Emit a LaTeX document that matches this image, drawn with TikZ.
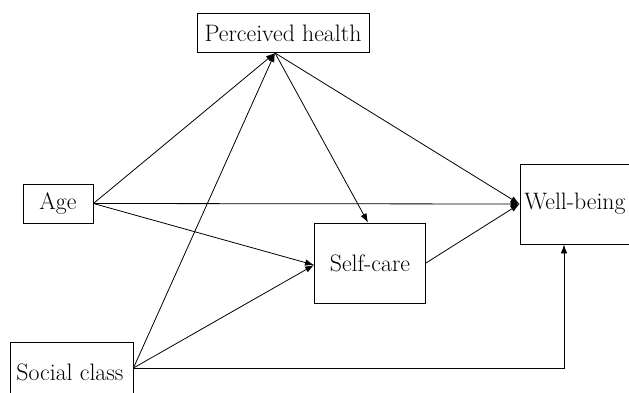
\documentclass[tikz,border=0pt]{standalone}
\usetikzlibrary{arrows.meta,calc}
\begin{document}
\begin{tikzpicture}[x=1pt,y=1pt,
  box/.style={draw=black,line width=0.9pt,fill=white,inner sep=0pt,font=\fontsize{23.8}{27}\selectfont},
  link/.style={line width=0.8pt,-{Latex[length=9pt,width=6.5pt]}}]
\clip (0,0) rectangle (629,392);
\fill[white] (0,0) rectangle (629,392);
\node[box,minimum width=172pt,minimum height=39pt] (ph) at (283,359) {Perceived health};
\node[box,minimum width=70pt,minimum height=39pt] (age) at (58,188.5) {Age};
\node[box,minimum width=110pt,minimum height=80pt] (wb) at (575,188) {Well-being};
\node[box,minimum width=111pt,minimum height=80pt] (sc) at (370,129) {Self-care};
\node[box,minimum width=123pt,minimum height=52pt] (so) at (71.5,24) {};
\node[font=\fontsize{23.8}{27}\selectfont,inner sep=0pt] (sotext) at (70,20) {Social class};
\coordinate (phb) at ([xshift=-8pt]ph.south);
\coordinate (wbb) at ([xshift=-11pt]wb.south);
\coordinate (corner) at (so.east -| wbb);
\draw[link] (age.east) -- (phb);
\draw[link] (so.east) -- (phb);
\draw[link] (phb) -- ([xshift=-2pt]sc.north);
\draw[link] (phb) -- (wb.west);
\draw[link] (age.east) -- (wb.west);
\draw[link] (age.east) -- ([yshift=-2pt]sc.west);
\draw[link] (so.east) -- ([yshift=-2pt]sc.west);
\draw[link] (sc.east) -- (wb.west);
\draw[link] (so.east) -- (corner) -- (wbb);
\end{tikzpicture}
\end{document}
